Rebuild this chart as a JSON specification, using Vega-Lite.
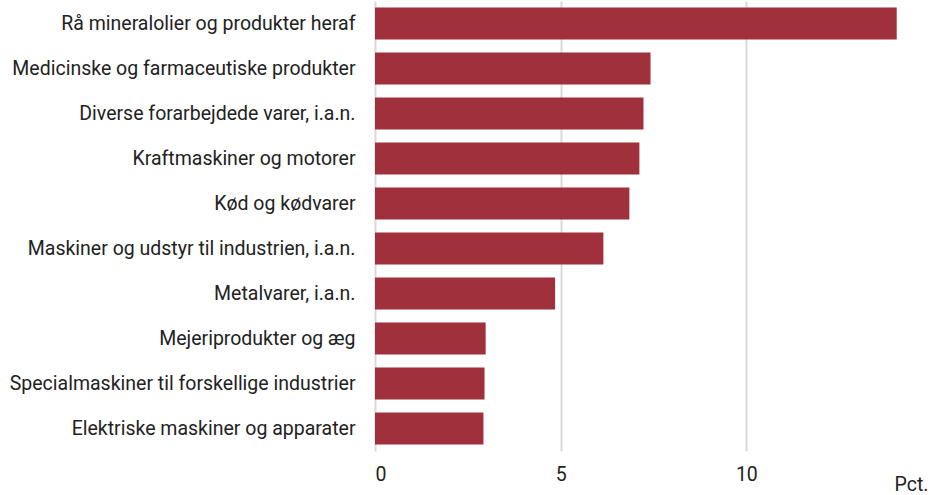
{
  "$schema": "https://vega.github.io/schema/vega-lite/v6.json",
  "autosize": "none",
  "width": 557,
  "height": 450,
  "padding": {"left": 375, "top": 1, "right": 12, "bottom": 44},
  "background": "white",
  "data": {"values": [
    {"kategori": "Rå mineralolier og produkter heraf", "pct": 14.05},
    {"kategori": "Medicinske og farmaceutiske produkter", "pct": 7.42},
    {"kategori": "Diverse forarbejdede varer, i.a.n.", "pct": 7.23},
    {"kategori": "Kraftmaskiner og motorer", "pct": 7.12},
    {"kategori": "Kød og kødvarer", "pct": 6.85},
    {"kategori": "Maskiner og udstyr til industrien, i.a.n.", "pct": 6.15},
    {"kategori": "Metalvarer, i.a.n.", "pct": 4.85},
    {"kategori": "Mejeriprodukter og æg", "pct": 2.98},
    {"kategori": "Specialmaskiner til forskellige industrier", "pct": 2.95},
    {"kategori": "Elektriske maskiner og apparater", "pct": 2.92}
  ]},
  "mark": {"type": "bar", "color": "#A0303C"},
  "encoding": {
    "y": {
      "field": "kategori", "type": "nominal", "sort": null,
      "scale": {"paddingInner": 0.29, "paddingOuter": 0.145},
      "axis": {"title": null, "domain": false, "ticks": false, "labelPadding": 20,
               "labelFont": "Roboto", "labelFontSize": 19.5, "labelColor": "#222222", "labelLimit": 400}
    },
    "x": {
      "field": "pct", "type": "quantitative",
      "scale": {"domain": [0, 15], "nice": false},
      "axis": {"values": [0, 5, 10], "title": "Pct.", "domain": false, "ticks": false,
               "grid": true, "gridColor": "#d9d9d9", "gridWidth": 2,
               "labelPadding": 14, "labelFont": "Roboto", "labelFontSize": 19.5, "labelColor": "#222222",
               "titleFont": "Roboto", "titleFontSize": 19.5, "titleFontWeight": "normal", "titleColor": "#222222",
               "titleAnchor": "end", "titleAlign": "right", "titleX": 553, "titleY": 39, "titleBaseline": "alphabetic"}
    }
  },
  "config": {"view": {"stroke": null}}
}
